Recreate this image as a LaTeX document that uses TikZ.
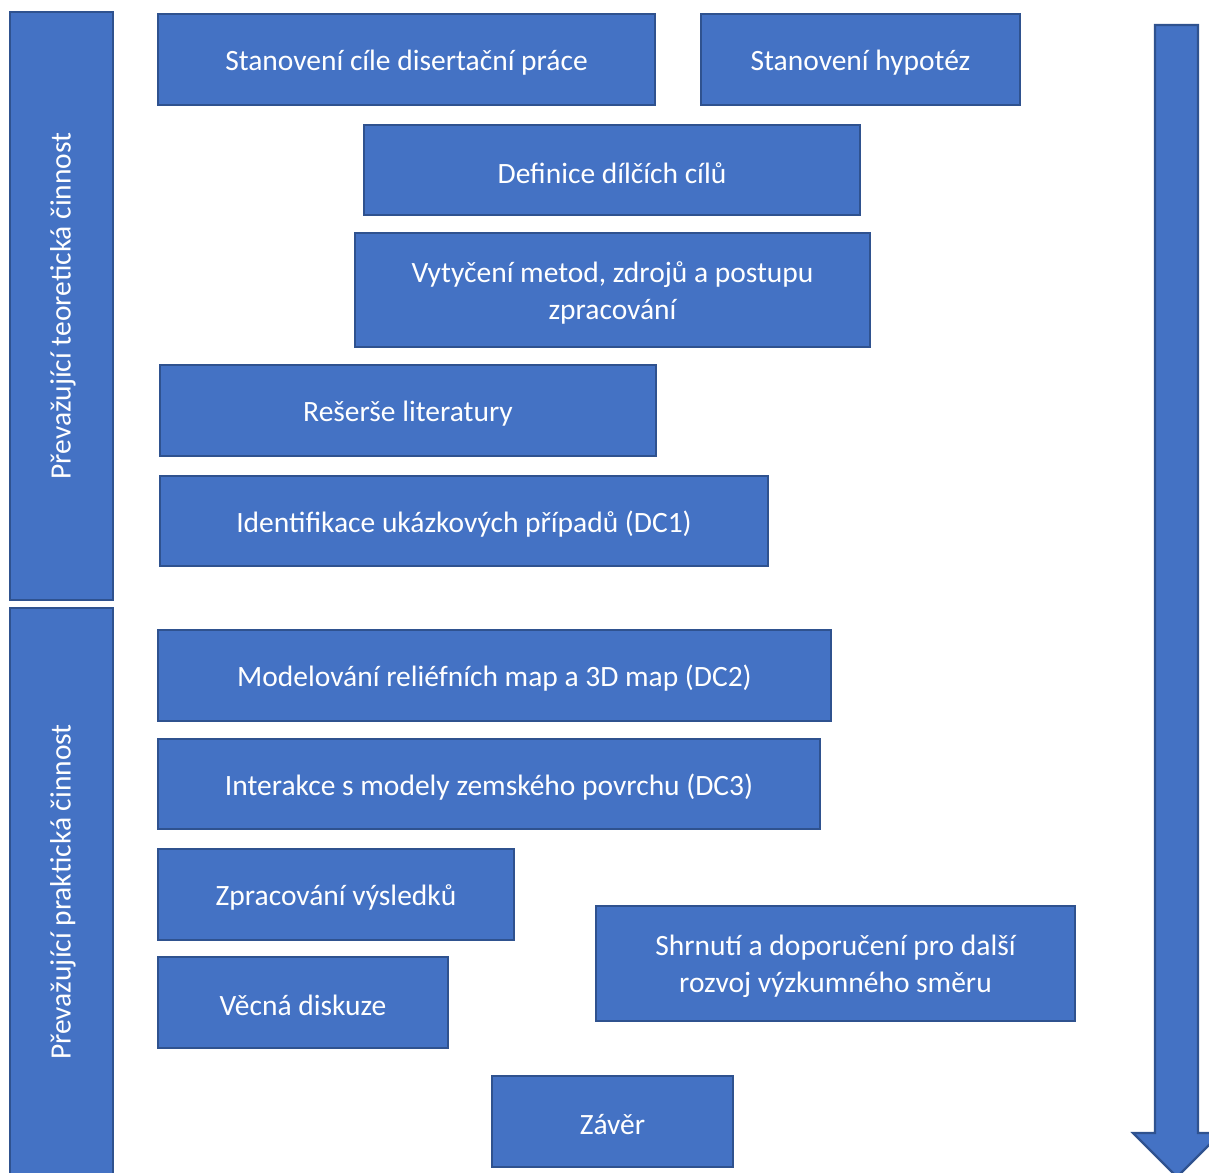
\documentclass[tikz,border=0pt]{standalone}
\usepackage{fontspec}
\setmainfont{Carlito}
\definecolor{boxfill}{HTML}{4472C4}
\definecolor{boxline}{HTML}{2F528F}
\begin{document}
\begin{tikzpicture}[x=1pt,y=-1pt,
  blk/.style={fill=boxfill,draw=boxline,line width=2.2pt},
  lbl/.style={text=white,font=\fontsize{29.5}{36.5}\selectfont,align=center,inner sep=0pt},
  vlbl/.style={text=white,font=\fontsize{29.5}{34}\selectfont,rotate=90,inner sep=0pt}]
\useasboundingbox (0,0) rectangle (1209,1172);
\clip (0,0) rectangle (1209,1172);
% side bars
\draw[blk] (10,12) rectangle (113,600);
\node[vlbl] (tt) at (63,306) {Převažující teoretická činnost};
\draw[blk] (10,608) rectangle (113,1185);
\node[vlbl] (pt) at (63,892) {Převažující praktická činnost};
% arrow
\draw[blk] (1155,25) -- (1198,25) -- (1198,1133) -- (1221,1133) -- (1177,1177) -- (1133,1133) -- (1155,1133) -- cycle;
% boxes
\newcommand{\bx}[6]{\draw[blk] (#2,#3) rectangle (#4,#5);
  \node[lbl] (#1) at ({(#2+#4)/2},{(#3+#5)/2+3}) {#6};}
\bx{b1}{158}{14}{655}{105}{Stanovení cíle disertační práce}
\bx{b2}{701}{14}{1020}{105}{Stanovení hypotéz}
\bx{b3}{364}{125}{860}{215}{Definice dílčích cílů}
\bx{b4}{355}{233}{870}{347}{Vytyčení metod, zdrojů a postupu\\zpracování}
\bx{b5}{160}{365}{656}{456}{Rešerše literatury}
\bx{b6}{160}{476}{768}{566}{Identifikace ukázkových případů (DC1)}
\bx{b7}{158}{630}{831}{721}{Modelování reliéfních map a 3D map (DC2)}
\bx{b8}{158}{739}{820}{829}{Interakce s modely zemského povrchu (DC3)}
\bx{b9}{158}{849}{514}{940}{Zpracování výsledků}
\bx{b10}{596}{906}{1075}{1021}{Shrnutí a doporučení pro další\\rozvoj výzkumného směru}
\bx{b11}{158}{957}{448}{1048}{Věcná diskuze}
\bx{b12}{492}{1076}{733}{1167}{Závěr}
\end{tikzpicture}
\end{document}
